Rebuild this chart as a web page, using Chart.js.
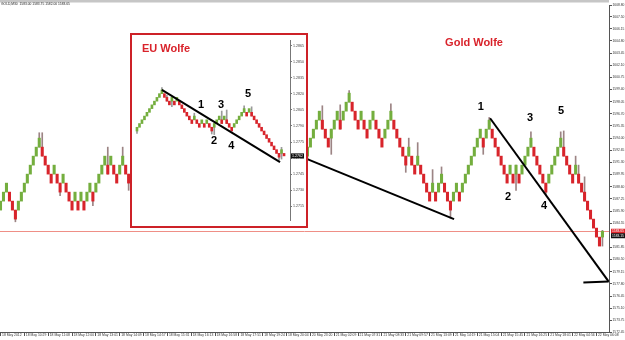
<!DOCTYPE html>
<html>
<head>
<meta charset="utf-8">
<title>Gold Wolfe</title>
<script src="https://cdn.jsdelivr.net/npm/chart.js@4.4.1/dist/chart.umd.min.js"></script>
<style>
  html, body { margin: 0; padding: 0; background: #ffffff; }
  #stage { position: relative; width: 625px; height: 340px; overflow: hidden; }
  #goldChart { position: absolute; left: 0; top: 0; }
  #euBox {
    position: absolute; left: 130px; top: 33px; width: 178px; height: 195px;
    box-sizing: border-box; border: 2px solid #cd2128; background: #ffffff;
  }
  #euChart { display: block; }
</style>
</head>
<body>
<div id="stage">
  <canvas id="goldChart" width="625" height="340"></canvas>
  <div id="euBox"><canvas id="euChart" width="174" height="191"></canvas></div>
</div>
<script>
// ---------- GOLD M30 (main chart) ----------
const goldSymbol = 'GOLD,M30';
const goldLastBar = [1583.00, 1583.75, 1582.00, 1583.65]; // O H L C of the live bar
const goldBid = 1583.65;
const goldMark = 1583.15;

// bricks [open, close]; the middle part sits behind the EU inset
const goldLeftStart = 0;
const goldLeft = [
  [1586,1587],[1587,1588],[1588,1589],[1588,1587],[1587,1586],[1586,1585],
  [1586,1587],[1587,1588],[1588,1589],[1589,1590],[1590,1591],[1591,1592],
  [1592,1593],[1593,1594],[1593,1592],[1592,1591],[1591,1590],[1590,1589],
  [1590,1591],[1590,1589],[1589,1588],[1589,1590],[1589,1588],[1588,1587],
  [1587,1586],[1587,1588],[1587,1586],[1587,1588],[1587,1586],[1587,1588],
  [1588,1589],[1588,1587],[1588,1589],[1589,1590],[1590,1591],[1591,1592],
  [1591,1590],[1591,1592],[1591,1590],[1590,1589],[1590,1591],[1591,1592],
  [1591,1590],[1590,1589],[1590,1591]
];
const goldRightStart = 103;
const goldRight = [
  [1592,1593],[1593,1594],[1594,1595],[1595,1596],[1596,1597],[1596,1595],
  [1595,1594],[1594,1593],[1594,1595],[1595,1596],[1596,1597],[1596,1595],
  [1596,1597],[1597,1598],[1598,1599],[1598,1597],[1597,1596],[1596,1595],
  [1596,1597],[1596,1595],[1595,1594],[1595,1596],[1596,1597],[1596,1595],
  [1595,1594],[1594,1593],[1594,1595],[1595,1596],[1596,1597],[1596,1595],
  [1595,1594],[1594,1593],[1593,1592],[1592,1591],[1592,1593],[1592,1591],
  [1591,1590],[1591,1592],[1591,1590],[1590,1589],[1589,1588],[1588,1587],
  [1588,1589],[1588,1587],[1588,1589],[1589,1590],[1589,1588],[1588,1587],
  [1587,1586],[1587,1588],[1588,1589],[1588,1587],[1588,1589],[1589,1590],
  [1590,1591],[1591,1592],[1592,1593],[1593,1594],[1594,1595],[1594,1593],
  [1594,1595],[1595,1596],[1595,1594],[1594,1593],[1593,1592],[1592,1591],
  [1591,1590],[1590,1589],[1590,1591],[1590,1589],[1590,1591],[1590,1589],
  [1590,1591],[1591,1592],[1592,1593],[1593,1594],[1593,1592],[1592,1591],
  [1591,1590],[1590,1589],[1589,1588],[1589,1590],[1590,1591],[1591,1592],
  [1592,1593],[1593,1594],[1593,1592],[1592,1591],[1591,1590],[1590,1589],
  [1590,1591],[1590,1589],[1589,1588],[1588,1587],[1587,1586],[1586,1585],
  [1585,1584],[1584,1583],[1583,1582],[1583.00,1583.65]
];
// wicks: [bar, low, high]
const goldWicks = [
  [5,1584.7,1586],[13,1593,1594.6],[14,1592,1594.6],[20,1587.6,1589],[31,1586.5,1588],
  [36,1590,1593],[41,1591,1593],[43,1588.2,1590],
  [103,1591.6,1593],[108,1595,1597.6],[111,1592.2,1595],[114,1595,1597.7],[117,1598,1599.3],
  [131,1596,1597.8],[136,1590.2,1592],[137,1592,1594],[140,1591,1593.5],[145,1588,1590.5],
  [148,1589,1590.8],[151,1585.1,1587],[162,1592.2,1594],[164,1595,1596.3],[173,1588.2,1591],
  [178,1593,1594.7],[183,1587.7,1589],[188,1593,1594.7],[189,1592,1594.8],[193,1590,1592],
  [194,1589,1591],[196,1587,1589.7],[202,1582.00,1583.75]
];

const goldLineA = [{ x: 102.95, y: 1591.66 }, { x: 152.2, y: 1584.99 }];
const goldLineB = [{ x: 164.3, y: 1596.21 }, { x: 204.1, y: 1578.05 }];
const goldLineC = [{ x: 195.6, y: 1577.95 }, { x: 204.1, y: 1578.05 }];

const goldTitle = 'Gold Wolfe';
const goldTitleAt = { x: 149.2, y: 1604.58 };
const goldWaveLabels = ['1', '2', '3', '4', '5'];
const goldWaveX = [161.2, 170.3, 177.7, 182.4, 188.1];
const goldWaveY = [1597.47, 1587.47, 1596.24, 1586.47, 1597.02];

const goldPriceTicks = [1608.80, 1607.50, 1606.15, 1604.80, 1603.45, 1602.10, 1600.75, 1599.40,
  1598.05, 1596.70, 1595.35, 1594.00, 1592.65, 1591.30, 1589.95, 1588.60, 1587.25, 1585.90,
  1584.55, 1581.85, 1580.50, 1579.15, 1577.80, 1576.45, 1575.10, 1573.75, 1572.45];
const goldTimeTicks = [0, 8, 16, 24, 32, 40, 48, 56, 64, 72, 80, 88, 96, 104, 112, 120, 128,
  136, 144, 152, 160, 168, 176, 184, 192, 200];
const goldTimeLabels = ['18 May 2012', '18 May 10:29', '18 May 11:08', '18 May 12:00', '18 May 13:01',
  '18 May 14:09', '18 May 14:57', '18 May 15:31', '18 May 16:13', '18 May 16:58', '18 May 17:51',
  '18 May 19:24', '18 May 20:04', '20 May 23:20', '21 May 02:09', '21 May 07:31', '21 May 08:33',
  '21 May 09:57', '21 May 13:09', '21 May 14:19', '21 May 15:04', '21 May 15:45', '21 May 16:25',
  '21 May 18:01', '22 May 04:56', '22 May 06:08'];

// ---------- EURUSD inset ----------
const euTitle = 'EU Wolfe';
const euTitleAt = { x: 2.0, y: 1.28622 };
const euLastPrice = 1.2762;
const euBodies = [
  [1.27853,1.27888],[1.27888,1.27923],[1.27923,1.27958],[1.27958,1.27993],[1.27993,1.28028],
  [1.28028,1.28063],[1.28063,1.28098],[1.28098,1.28133],[1.28133,1.28168],[1.28168,1.28203],
  [1.28203,1.28238],[1.28203,1.28168],[1.28168,1.28133],[1.28133,1.28098],[1.28133,1.28168],
  [1.28133,1.28098],[1.28133,1.28168],[1.28133,1.28098],[1.28098,1.28063],[1.28063,1.28028],
  [1.28028,1.27993],[1.27993,1.27958],[1.27958,1.27923],[1.27958,1.27993],[1.27958,1.27923],
  [1.27923,1.27888],[1.27923,1.27958],[1.27923,1.27888],[1.27923,1.27958],[1.27923,1.27888],
  [1.27888,1.27853],[1.27888,1.27923],[1.27923,1.27958],[1.27958,1.27993],[1.27958,1.27923],
  [1.27958,1.27993],[1.27958,1.27923],[1.27923,1.27888],[1.27888,1.27853],[1.27888,1.27923],
  [1.27923,1.27958],[1.27958,1.27993],[1.27993,1.28028],[1.28028,1.28063],[1.28028,1.27993],
  [1.28028,1.28063],[1.28028,1.27993],[1.27993,1.27958],[1.27958,1.27923],[1.27923,1.27888],
  [1.27888,1.27853],[1.27853,1.27818],[1.27818,1.27783],[1.27783,1.27748],[1.27748,1.27713],
  [1.27713,1.27678],[1.27678,1.27643],[1.27643,1.27608],[1.27643,1.27678],[1.27643,1.27620]
];
const euWicks = [
  [0,1.27830,1.27888],[10,1.28203,1.28260],[12,1.28133,1.28190],[14,1.28080,1.28168],
  [23,1.27958,1.28020],[30,1.27825,1.27888],[31,1.27820,1.27923],[34,1.27923,1.28040],
  [36,1.27923,1.28050],[43,1.28028,1.28090],[46,1.27993,1.28080],[57,1.27580,1.27643],
  [58,1.27590,1.27700]
];
const euLine = [{ x: 10.0, y: 1.28238 }, { x: 57.4, y: 1.27562 }];
const euWaveLabels = ['1', '2', '3', '4', '5'];
const euWaveX = [25.7, 30.9, 33.7, 37.8, 44.6];
const euWaveY = [1.28097, 1.27759, 1.28097, 1.27712, 1.28200];
const euTicks = [1.2715, 1.2730, 1.2745, 1.2760, 1.2775, 1.2790, 1.2805, 1.2820, 1.2835, 1.2850, 1.2865];

// ---------- drawing ----------
const GREEN = '#74ae3e';
const RED = '#d8242b';
const WICK = '#9c8484';
const AXIS = '#555555';
const FONT = '"Liberation Sans", Arial, sans-serif';

function toBars(list, start) {
  return list.map((oc, k) => ({ x: start + k, y: oc }));
}
function toWicks(list) {
  return list.map(w => ({ x: w[0], y: [w[1], w[2]] }));
}
function bodyColor(c) {
  return c.raw && c.raw.y[1] >= c.raw.y[0] ? GREEN : RED;
}
function trendLine(points) {
  return { type: 'line', data: points, borderColor: '#000', borderWidth: 2, pointRadius: 0, fill: false, order: 0 };
}
function drawWaveLabels(ctx, x, y, labels, xs, ys) {
  ctx.font = 'bold 11px ' + FONT;
  ctx.fillStyle = '#000';
  ctx.textAlign = 'center';
  ctx.textBaseline = 'middle';
  labels.forEach((t, i) => ctx.fillText(t, x.getPixelForValue(xs[i]), y.getPixelForValue(ys[i])));
}
function drawTitle(ctx, x, y, text, at) {
  ctx.font = 'bold 11px ' + FONT;
  ctx.fillStyle = '#d9232b';
  ctx.textAlign = 'left';
  ctx.textBaseline = 'middle';
  ctx.fillText(text, x.getPixelForValue(at.x), y.getPixelForValue(at.y));
}

const goldDecor = {
  id: 'goldDecor',
  beforeDatasetsDraw(chart) {
    const { ctx, chartArea: a, scales: { y } } = chart;
    const yb = Math.round(y.getPixelForValue(goldBid)) + 0.5;
    ctx.save();
    ctx.strokeStyle = '#ef8f86';
    ctx.lineWidth = 1;
    ctx.beginPath();
    ctx.moveTo(a.left, yb);
    ctx.lineTo(a.right, yb);
    ctx.stroke();
    ctx.restore();
  },
  afterDatasetsDraw(chart) {
    const { ctx, scales: { x, y } } = chart;
    ctx.save();
    drawWaveLabels(ctx, x, y, goldWaveLabels, goldWaveX, goldWaveY);
    drawTitle(ctx, x, y, goldTitle, goldTitleAt);
    ctx.restore();
  },
  afterDraw(chart) {
    const { ctx, chartArea: a, scales: { y } } = chart;
    ctx.save();
    ctx.fillStyle = '#c6c6c6';
    ctx.fillRect(0, 0, a.right, 2.5);
    ctx.fillStyle = '#222';
    ctx.font = '3.3px ' + FONT;
    ctx.textAlign = 'left';
    ctx.textBaseline = 'middle';
    ctx.fillText(goldSymbol + '  ' + goldLastBar.map(v => v.toFixed(2)).join(' '), 1, 4.3);
    [[goldBid, '#e0262c'], [goldMark, '#111111']].forEach(([v, col]) => {
      const py = y.getPixelForValue(v);
      ctx.fillStyle = col;
      ctx.fillRect(a.right + 2, py - 2.5, chart.width - a.right - 2, 5);
      ctx.fillStyle = '#fff';
      ctx.fillText(v.toFixed(2), a.right + 3, py);
    });
    ctx.restore();
  }
};

new Chart(document.getElementById('goldChart'), {
  type: 'bar',
  data: {
    datasets: [
      { data: toWicks(goldWicks), backgroundColor: WICK, barThickness: 1, grouped: false, order: 2 },
      {
        data: toBars(goldLeft, goldLeftStart).concat(toBars(goldRight, goldRightStart)),
        backgroundColor: bodyColor, barThickness: 2.4, grouped: false, order: 1
      },
      trendLine(goldLineA),
      trendLine(goldLineB),
      trendLine(goldLineC)
    ]
  },
  options: {
    responsive: false,
    animation: false,
    layout: { padding: { top: 5, left: 0, right: 0, bottom: 0 } },
    plugins: { legend: { display: false }, tooltip: { enabled: false } },
    scales: {
      x: {
        type: 'linear', min: -0.17, max: 204.2, offset: false,
        grid: { drawOnChartArea: false, tickLength: 4, color: AXIS, offset: false },
        border: { color: AXIS },
        afterBuildTicks: s => { s.ticks = goldTimeTicks.map(v => ({ value: v })); },
        afterFit: s => { s.height = 8; },
        ticks: {
          autoSkip: false, maxRotation: 0, minRotation: 0, align: 'start',
          labelOffset: 1.5, padding: -3, color: '#333',
          font: { family: FONT, size: 3.4 },
          callback: (v, i) => goldTimeLabels[i]
        }
      },
      y: {
        position: 'right', min: 1572.45, max: 1608.80, beginAtZero: false,
        grid: { drawOnChartArea: false, tickLength: 3, color: AXIS },
        border: { color: AXIS },
        afterBuildTicks: s => { s.ticks = goldPriceTicks.map(v => ({ value: v })); },
        afterFit: s => { s.width = 16; },
        ticks: {
          autoSkip: false, padding: 0.5, color: '#333',
          font: { family: FONT, size: 3.3 },
          callback: v => v.toFixed(2)
        }
      }
    }
  },
  plugins: [goldDecor]
});

const euDecor = {
  id: 'euDecor',
  afterDatasetsDraw(chart) {
    const { ctx, scales: { x, y } } = chart;
    ctx.save();
    drawWaveLabels(ctx, x, y, euWaveLabels, euWaveX, euWaveY);
    drawTitle(ctx, x, y, euTitle, euTitleAt);
    ctx.restore();
  },
  afterDraw(chart) {
    const { ctx, chartArea: a, scales: { y } } = chart;
    const py = y.getPixelForValue(euLastPrice);
    ctx.save();
    ctx.fillStyle = '#111';
    ctx.fillRect(a.right + 1, py - 2.5, 13, 5);
    ctx.fillStyle = '#fff';
    ctx.font = '3.6px ' + FONT;
    ctx.textAlign = 'left';
    ctx.textBaseline = 'middle';
    ctx.fillText(euLastPrice.toFixed(4), a.right + 2, py);
    ctx.restore();
  }
};

new Chart(document.getElementById('euChart'), {
  type: 'bar',
  data: {
    datasets: [
      { data: toWicks(euWicks), backgroundColor: '#9a9a9a', barThickness: 1, grouped: false, order: 2 },
      { data: toBars(euBodies, 0), backgroundColor: bodyColor, barThickness: 2, grouped: false, order: 1 },
      trendLine(euLine)
    ]
  },
  options: {
    responsive: false,
    animation: false,
    layout: { padding: { top: 5, left: 1, right: 0, bottom: 6 } },
    plugins: { legend: { display: false }, tooltip: { enabled: false } },
    scales: {
      x: { type: 'linear', min: -1.6, max: 61.4, offset: false, display: false },
      y: {
        position: 'right', min: 1.27019, max: 1.28706, beginAtZero: false,
        grid: { drawOnChartArea: false, tickLength: 2, color: '#777' },
        border: { color: '#777' },
        afterBuildTicks: s => { s.ticks = euTicks.map(v => ({ value: v })); },
        afterFit: s => { s.width = 16; },
        ticks: {
          autoSkip: false, padding: 1, color: '#444',
          font: { family: FONT, size: 3.6 },
          callback: v => v.toFixed(4)
        }
      }
    }
  },
  plugins: [euDecor]
});
</script>
</body>
</html>
